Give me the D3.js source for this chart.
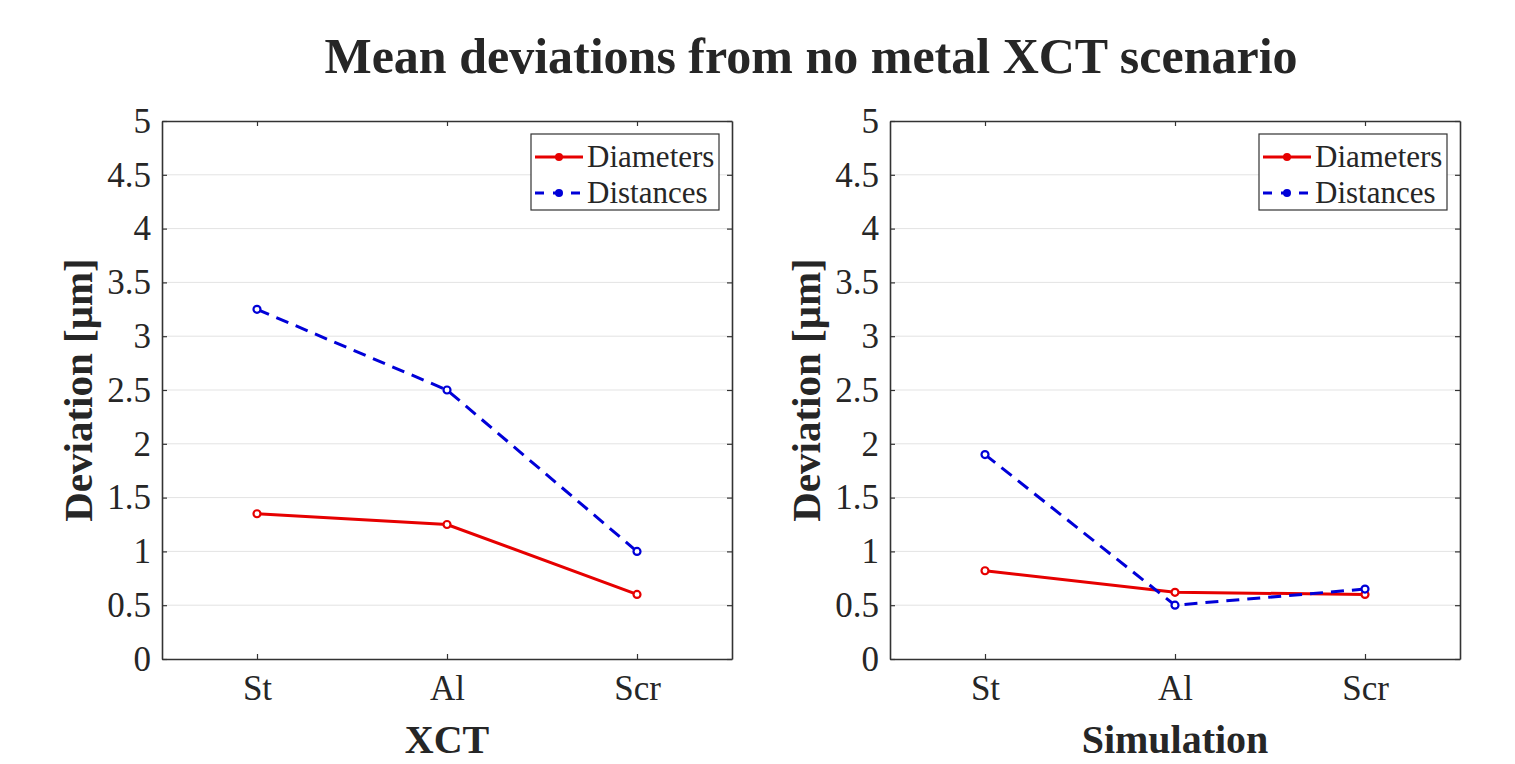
<!DOCTYPE html>
<html>
<head>
<meta charset="utf-8">
<script src="https://cdn.jsdelivr.net/npm/d3@7"></script>
<style>
  body { margin: 0; background: #fff; }
  svg { display: block; }
  text { font-family: "Liberation Serif", "Times New Roman", serif; fill: #262626; }
</style>
</head>
<body>
<div id="chart"></div>
<script>
// data
const categories = ["St", "Al", "Scr"];
const yTicks = [0, 0.5, 1, 1.5, 2, 2.5, 3, 3.5, 4, 4.5, 5];
const seriesNames = ["Diameters", "Distances"];

const xctDiameters = [1.35, 1.25, 0.6];
const xctDistances = [3.25, 2.5, 1.0];
const simDiameters = [0.82, 0.62, 0.6];
const simDistances = [1.9, 0.5, 0.65];

const panels = [
  { xlabel: "XCT", diam: xctDiameters, dist: xctDistances, left: 162 },
  { xlabel: "Simulation", diam: simDiameters, dist: simDistances, left: 890 }
];

const width = 1515, height = 764;
const top_ = 121, bottom = 659, pw = 570;
const red = "#e60000", blue = "#0000d8", axisCol = "#333";

const svg = d3.select("#chart")
  .append("svg")
  .attr("width", width)
  .attr("height", height);

svg.append("text")
  .attr("x", 811)
  .attr("y", 73)
  .attr("text-anchor", "middle")
  .attr("font-weight", "bold")
  .attr("font-size", 50)
  .text("Mean deviations from no metal XCT scenario");

const y = d3.scaleLinear().domain([0, 5]).range([bottom, top_]);

panels.forEach(p => {
  const x = d3.scalePoint()
    .domain(categories)
    .range([p.left, p.left + pw])
    .padding(0.5);

  const g = svg.append("g");

  // grid
  g.append("g")
    .selectAll("line")
    .data(yTicks.filter(d => d > 0 && d < 5))
    .join("line")
    .attr("x1", p.left)
    .attr("x2", p.left + pw)
    .attr("y1", d => y(d))
    .attr("y2", d => y(d))
    .attr("stroke", "#e3e3e3")
    .attr("stroke-width", 1);

  // axes (box on, ticks inward)
  const yAx = g.append("g")
    .attr("transform", `translate(${p.left},0)`)
    .call(d3.axisLeft(y).tickValues(yTicks).tickFormat(d => String(d))
      .tickSizeInner(-5).tickSizeOuter(0).tickPadding(11));
  const yAxR = g.append("g")
    .attr("transform", `translate(${p.left + pw},0)`)
    .call(d3.axisRight(y).tickValues(yTicks).tickFormat("")
      .tickSizeInner(-5).tickSizeOuter(0));
  const xAx = g.append("g")
    .attr("transform", `translate(0,${bottom})`)
    .call(d3.axisBottom(x).tickSizeInner(-5).tickSizeOuter(0).tickPadding(16));
  const xAxT = g.append("g")
    .attr("transform", `translate(0,${top_})`)
    .call(d3.axisTop(x).tickFormat("").tickSizeInner(-5).tickSizeOuter(0));

  [yAx, yAxR, xAx, xAxT].forEach(a => {
    a.select(".domain").attr("stroke", axisCol).attr("stroke-width", 1.6);
    a.selectAll(".tick line").attr("stroke", axisCol).attr("stroke-width", 1.2);
    a.selectAll(".tick text")
      .attr("font-family", '"Liberation Serif", serif')
      .attr("font-size", 35)
      .attr("fill", "#262626");
  });
  xAx.selectAll(".tick text").attr("dy", "0.72em");

  // axis labels
  g.append("text")
    .attr("x", p.left + pw / 2)
    .attr("y", 753)
    .attr("text-anchor", "middle")
    .attr("font-weight", "bold")
    .attr("font-size", 40)
    .text(p.xlabel);

  g.append("text")
    .attr("transform", `translate(${p.left - 70},${(top_ + bottom) / 2}) rotate(-90)`)
    .attr("text-anchor", "middle")
    .attr("font-weight", "bold")
    .attr("font-size", 41)
    .text("Deviation [\u03bcm]");

  // series
  const line = d3.line().x((d, i) => x(categories[i])).y(d => y(d));
  const series = [
    { vals: p.diam, color: red, dash: null },
    { vals: p.dist, color: blue, dash: "13,8" }
  ];
  series.forEach(s => {
    g.append("path")
      .datum(s.vals)
      .attr("d", line)
      .attr("fill", "none")
      .attr("stroke", s.color)
      .attr("stroke-width", 3)
      .attr("stroke-dasharray", s.dash);
    g.append("g")
      .selectAll("circle")
      .data(s.vals)
      .join("circle")
      .attr("cx", (d, i) => x(categories[i]))
      .attr("cy", d => y(d))
      .attr("r", 3.5)
      .attr("fill", "white")
      .attr("stroke", s.color)
      .attr("stroke-width", 2.2);
  });

  // legend
  const lx = p.left + pw - 13 - 188, ly = top_ + 13;
  const leg = g.append("g").attr("transform", `translate(${lx},${ly})`);
  leg.append("rect")
    .attr("width", 188)
    .attr("height", 76)
    .attr("fill", "white")
    .attr("stroke", axisCol)
    .attr("stroke-width", 1.2);
  const items = leg.selectAll("g.item")
    .data(seriesNames.map((n, i) => ({ name: n, s: series[i] })))
    .join("g")
    .attr("class", "item")
    .attr("transform", (d, i) => `translate(0,${23 + i * 36})`);
  items.append("line")
    .attr("x1", 4).attr("x2", 52)
    .attr("stroke", d => d.s.color)
    .attr("stroke-width", 3)
    .attr("stroke-dasharray", d => d.s.dash ? "9,9" : null);
  items.append("circle")
    .attr("cx", 28)
    .attr("r", 4)
    .attr("fill", d => d.s.color);
  items.append("text")
    .attr("x", 56)
    .attr("dy", "0.33em")
    .attr("font-size", 31)
    .text(d => d.name);
});
</script>
</body>
</html>
